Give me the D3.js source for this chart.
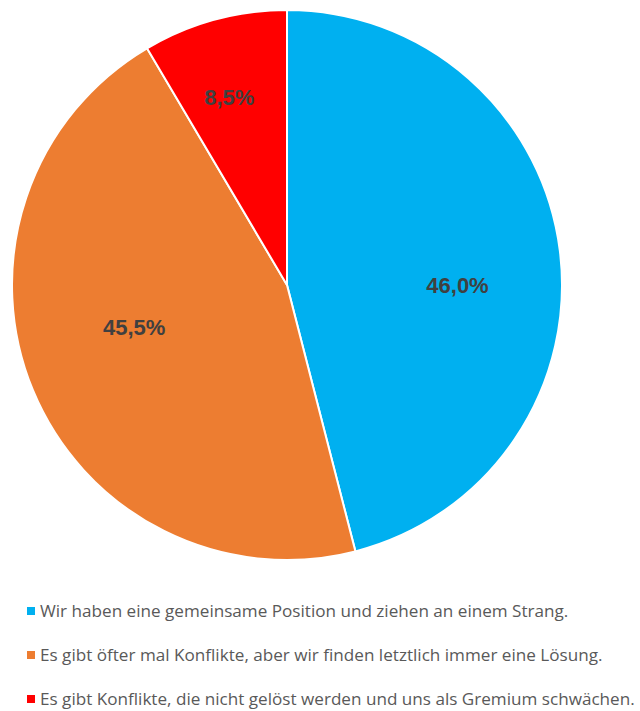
<!DOCTYPE html>
<html lang="de">
<head>
<meta charset="UTF-8">
<script src="https://d3js.org/d3.v7.min.js"></script>
<style>
  body { margin: 0; background: #fff; }
  svg { display: block; }
</style>
</head>
<body>
<div id="chart"></div>
<script>
// data
const categories = [
  "Wir haben eine gemeinsame Position und ziehen an einem Strang.",
  "Es gibt öfter mal Konflikte, aber wir finden letztlich immer eine Lösung.",
  "Es gibt Konflikte, die nicht gelöst werden und uns als Gremium schwächen."
];
const shares = [46.0, 45.5, 8.5];
const colors = ["#00B0F0", "#ED7D31", "#FF0000"];

const W = 640, H = 711;
const cx = 287, cy = 285, R = 275;

// label anchors as fractions of the radius (Excel "best fit" places them off the centroid)
const labelPos = [[0.62, 0.0], [-0.556, 0.153], [-0.21, -0.684]];

const data = categories.map((c, i) => ({ cat: c, value: shares[i], color: colors[i], lp: labelPos[i] }));

const svg = d3.select("#chart").append("svg").attr("width", W).attr("height", H);

const pie = d3.pie().value(d => d.value).sort(null);
const arc = d3.arc().innerRadius(0).outerRadius(R);

const g = svg.append("g").attr("transform", `translate(${cx},${cy})`);

const arcs = pie(data);

g.selectAll("path")
  .data(arcs)
  .enter()
  .append("path")
  .attr("d", arc)
  .attr("fill", d => d.data.color)
  .attr("stroke", "#fff")
  .attr("stroke-width", 2)
  .attr("stroke-linejoin", "round");

const fmt = v => v.toFixed(1).replace(".", ",") + "%";

g.selectAll(".lbl")
  .data(arcs)
  .enter()
  .append("text")
  .attr("class", "lbl")
  .attr("x", d => d.data.lp[0] * R)
  .attr("y", d => d.data.lp[1] * R)
  .attr("dy", "0.35em")
  .attr("text-anchor", "middle")
  .style("font-family", "'Liberation Sans', Arial, sans-serif")
  .style("font-weight", "bold")
  .style("font-size", "22px")
  .style("fill", "#404040")
  .text(d => fmt(d.data.value));

// legend
const legend = svg.append("g").attr("transform", "translate(0,611)");
const rowH = 44;

const rows = legend.selectAll(".row")
  .data(data)
  .enter()
  .append("g")
  .attr("class", "row")
  .attr("transform", (d, i) => `translate(0,${i * rowH})`);

rows.append("rect")
  .attr("x", 27)
  .attr("y", -4)
  .attr("width", 8)
  .attr("height", 8)
  .attr("fill", d => d.color);

const texts = rows.append("text")
  .attr("x", 40)
  .attr("dy", "0.33em")
  .style("font-family", "'Open Sans', 'Noto Sans', sans-serif")
  .style("font-size", "15px")
  .style("fill", "#595959")
  .text(d => d.cat);

// fit font size so the longest line spans like the original (~597px)
let maxW = 0;
texts.each(function () { maxW = Math.max(maxW, this.getComputedTextLength()); });
const fs = 15 * 595 / maxW;
texts.style("font-size", fs + "px");
</script>
</body>
</html>
